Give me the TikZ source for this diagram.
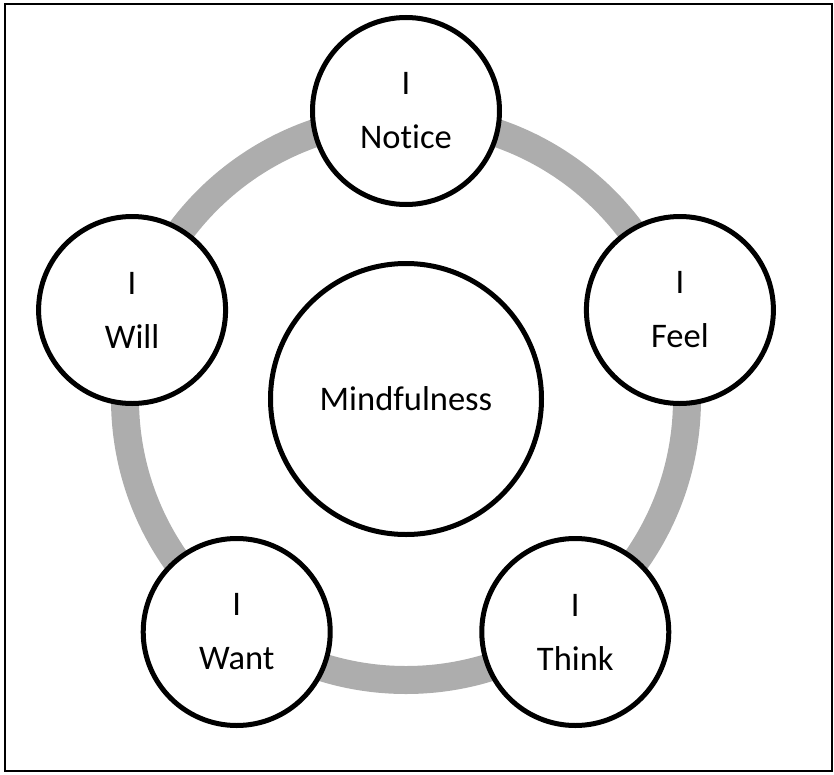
\documentclass[tikz,border=0pt]{standalone}
\usepackage{fontspec}
\setmainfont{Carlito}[Ligatures=NoCommon]
\usepackage{tikz}
\usepackage{xcolor}

\definecolor{ringgray}{RGB}{173,173,173}

\begin{document}
\begin{tikzpicture}[x=1pt, y=1pt,
  stage/.style={circle, draw=black, line width=5pt, fill=white, minimum size=187pt, inner sep=0pt, align=center, font=\fontsize{34.5}{54}\selectfont},
  core/.style={stage, minimum size=271pt}]
\useasboundingbox (-406,-375) rectangle (428,399);
\draw[line width=1.5pt] (-401,-372) rectangle (426,395);
\coordinate (hub) at (0,0);
% grey ring behind the circles
\draw[line width=28pt, ringgray] (hub) circle (281);
\node[core] (mind) at (hub) {Mindfulness};
\node[stage] (notice) at (90:288) {I\\Notice};
\node[stage] (feel) at (18:288) {I\\Feel};
\node[stage] (think) at (-54:288) {I\\Think};
\node[stage] (want) at (-126:288) {I\\Want};
\node[stage] (will) at (162:288) {I\\Will};
\end{tikzpicture}
\end{document}
